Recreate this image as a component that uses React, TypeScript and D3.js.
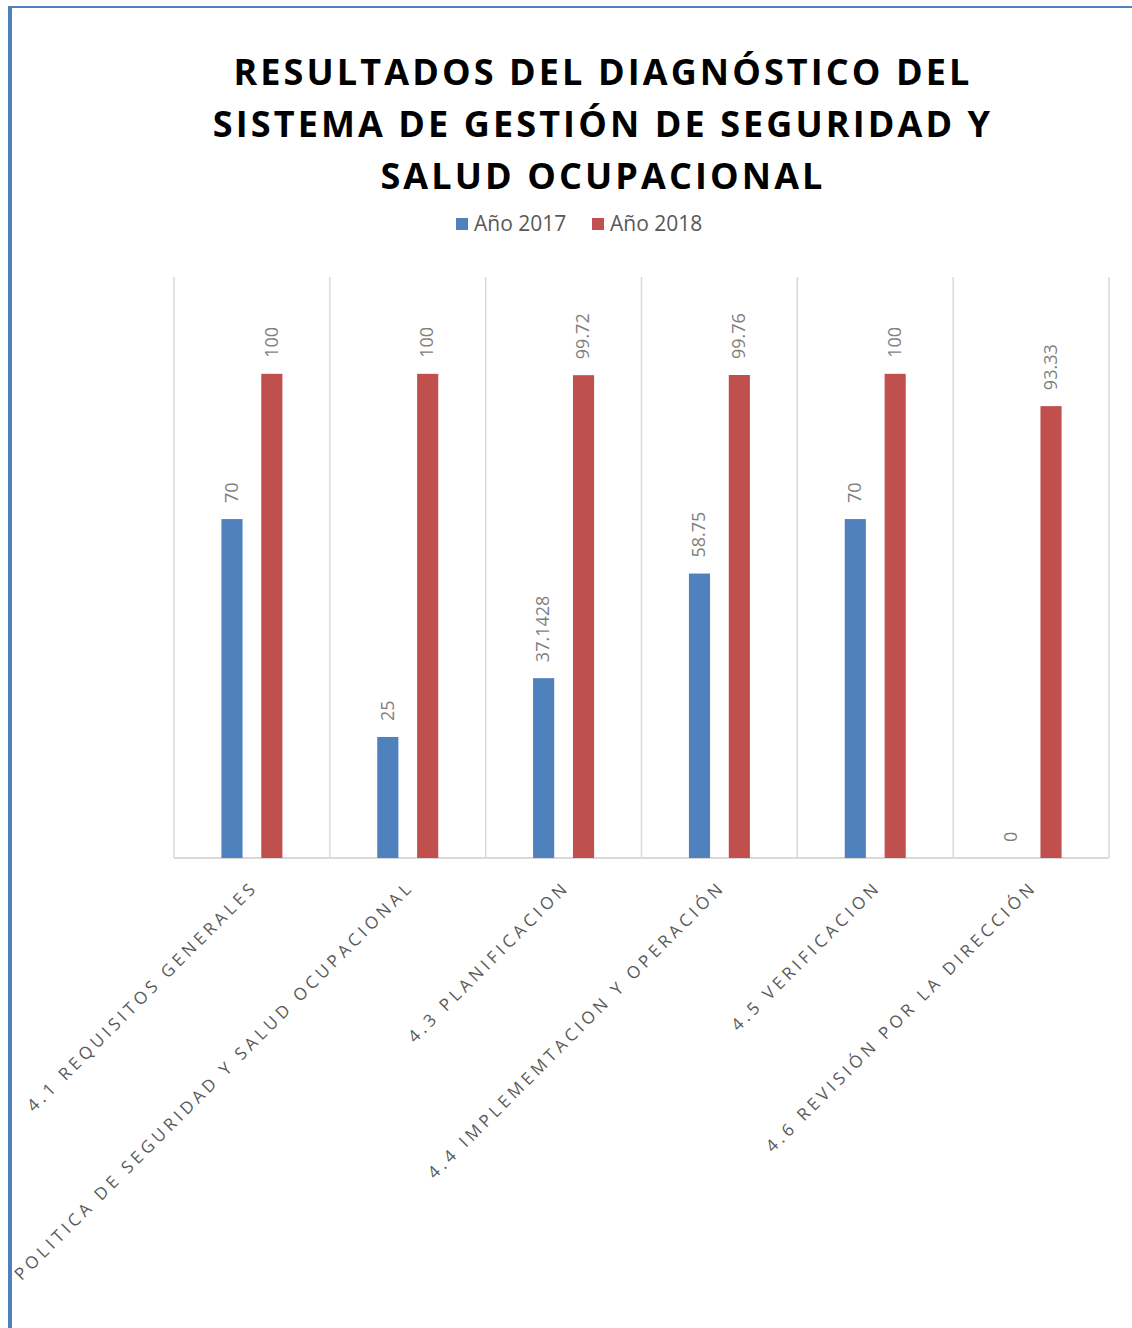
import React, { useRef, useEffect } from 'react';
import * as d3 from 'd3';

const categories = [
  '4.1 REQUISITOS GENERALES',
  '4.2 POLITICA DE SEGURIDAD Y SALUD OCUPACIONAL',
  '4.3 PLANIFICACION',
  '4.4 IMPLEMEMTACION Y OPERACIÓN',
  '4.5 VERIFICACION',
  '4.6 REVISIÓN POR LA DIRECCIÓN',
];
const series2017 = [70, 25, 37.1428, 58.75, 70, 0];
const series2018 = [100, 100, 99.72, 99.76, 100, 93.33];
const seriesNames = ['Año 2017', 'Año 2018'];
const titleLines = [
  'RESULTADOS DEL DIAGNÓSTICO DEL',
  'SISTEMA DE GESTIÓN DE SEGURIDAD Y',
  'SALUD OCUPACIONAL',
];

const colors = ['#4f81bd', '#c0504d'];

const App: React.FC = () => {
  const svgRef = useRef<SVGSVGElement | null>(null);

  useEffect(() => {
    const svg = d3.select(svgRef.current);
    svg.selectAll('*').remove();

    const width = 1132;
    const height = 1328;
    const font = "'Open Sans', sans-serif";

    svg.attr('width', width).attr('height', height);

    // clip everything left of the frame border
    svg.append('defs').append('clipPath').attr('id', 'frame')
      .append('rect').attr('x', 12).attr('y', 8).attr('width', width).attr('height', height);

    const root = svg.append('g').attr('clip-path', 'url(#frame)');

    // title
    root.append('g').selectAll('text').data(titleLines).enter().append('text')
      .attr('x', 603)
      .attr('y', (_, i) => 85 + i * 52)
      .attr('text-anchor', 'middle')
      .attr('font-family', font)
      .attr('font-weight', 700)
      .attr('font-size', 36)
      .attr('letter-spacing', 3.1)
      .attr('fill', '#000')
      .text((d) => d);

    // legend
    const legendX = [456, 592];
    const legend = root.append('g');
    seriesNames.forEach((name, i) => {
      legend.append('rect').attr('x', legendX[i]).attr('y', 218).attr('width', 12).attr('height', 12).attr('fill', colors[i]);
      legend.append('text').attr('x', legendX[i] + 18).attr('y', 231)
        .attr('font-family', font).attr('font-size', 21).attr('fill', '#595959').text(name);
    });

    const x0 = d3.scaleBand().domain(categories).range([174, 1109]);
    const x1 = d3.scaleBand().domain(['0', '1']).range([0, 61]).paddingInner(0.47);
    const y = d3.scaleLinear().domain([0, 120]).range([858, 277]);

    // vertical gridlines at category boundaries
    const bounds = categories.map((c) => x0(c)!).concat([x0.range()[1]]);
    root.append('g').selectAll('line').data(bounds).enter().append('line')
      .attr('x1', (d) => d).attr('x2', (d) => d)
      .attr('y1', y(120)).attr('y2', y(0))
      .attr('stroke', '#d9d9d9').attr('stroke-width', 1.5);

    // baseline
    root.append('line').attr('x1', 174).attr('x2', 1109).attr('y1', y(0)).attr('y2', y(0))
      .attr('stroke', '#d9d9d9').attr('stroke-width', 2);

    const rows = categories.map((c, i) => ({ c, vals: [series2017[i], series2018[i]] }));
    const groups = root.append('g').selectAll('g').data(rows).enter().append('g')
      .attr('transform', (d) => `translate(${x0(d.c)! + (x0.bandwidth() - 61) / 2},0)`);

    groups.selectAll('rect').data((d) => d.vals.map((v, k) => ({ v, k }))).enter().append('rect')
      .attr('x', (d) => x1(String(d.k))!)
      .attr('y', (d) => y(d.v))
      .attr('width', x1.bandwidth())
      .attr('height', (d) => y(0) - y(d.v))
      .attr('fill', (d) => colors[d.k]);

    groups.selectAll('text').data((d) => d.vals.map((v, k) => ({ v, k }))).enter().append('text')
      .attr('transform', (d) => `translate(${x1(String(d.k))! + x1.bandwidth() / 2 + 1},${y(d.v) - 16}) rotate(-90)`)
      .attr('dominant-baseline', 'middle')
      .attr('font-family', font)
      .attr('font-size', 18)
      .attr('fill', '#7f7f7f')
      .text((d) => String(d.v));

    // category labels
    root.append('g').selectAll('text').data(categories).enter().append('text')
      .attr('transform', (d) => `translate(${x0(d)! + x0.bandwidth() / 2 + 7},${888}) rotate(-45)`)
      .attr('text-anchor', 'end')
      .attr('font-family', font)
      .attr('font-size', 17)
      .attr('letter-spacing', 4)
      .attr('fill', '#595959')
      .text((d) => d);

    // frame border
    svg.append('line').attr('x1', 8).attr('x2', width).attr('y1', 7).attr('y2', 7)
      .attr('stroke', '#4f81bd').attr('stroke-width', 2);
    svg.append('line').attr('x1', 10).attr('x2', 10).attr('y1', 6).attr('y2', height)
      .attr('stroke', '#4f81bd').attr('stroke-width', 4);
  }, []);

  return <svg ref={svgRef} style={{ position: 'absolute', left: 0, top: 0 }}></svg>;
};

export default App;
